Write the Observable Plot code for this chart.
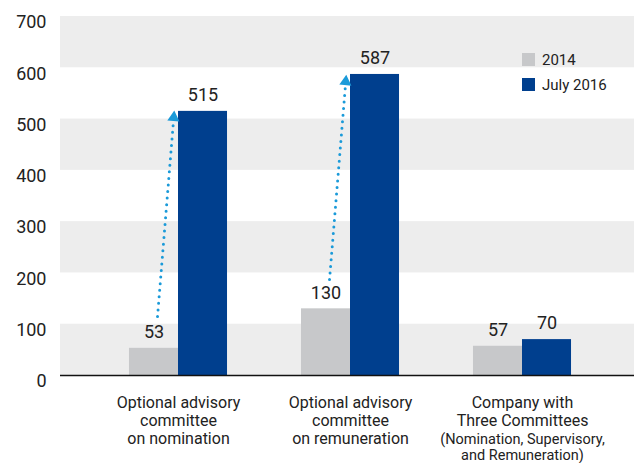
<!DOCTYPE html>
<html>
<head>
<meta charset="utf-8">
<script src="https://cdn.jsdelivr.net/npm/d3@7"></script>
<script src="https://cdn.jsdelivr.net/npm/@observablehq/plot@0.6"></script>
<style>
  html, body { margin: 0; padding: 0; background: #fff; }
  #wrap { position: relative; width: 634px; height: 463px; font-family: Roboto, "Liberation Sans", sans-serif; }
  #legend { position: absolute; left: 522px; top: 47px; font-size: 15px; color: #222; }
  #legend .row { display: flex; align-items: center; height: 25px; }
  #legend .sw { width: 13px; height: 13px; margin-right: 7px; }
</style>
</head>
<body>
<div id="wrap"><div id="legend"></div></div>
<script>
const categories = [
  "Optional advisory\ncommittee\non nomination",
  "Optional advisory\ncommittee\non remuneration",
  "Company with\nThree Committees"
];
const subLabels = ["", "", "(Nomination, Supervisory,\nand Remuneration)"];
const series = ["2014", "July 2016"];
const values2014 = [53, 130, 57];
const values2016 = [515, 587, 70];
const arrowFrom = [115, 187, null];
const arrowTo = [511, 581, null];
const yTicks = [0, 100, 200, 300, 400, 500, 600, 700];
const bandStarts = [0, 200, 400, 600];
const colors = ["#c7c8ca", "#003f8e"];
const arrowColor = "#1a9ad9";

const half = 0.285;
const rows = categories.map((c, i) => ({i, c, sub: subLabels[i], a: values2014[i], b: values2016[i], from: arrowFrom[i], to: arrowTo[i]}));
const arrows = rows.filter(d => d.from != null);

const chart = Plot.plot({
  width: 634,
  height: 463,
  marginLeft: 60,
  marginRight: 0,
  marginTop: 16,
  marginBottom: 88,
  style: {fontFamily: "Roboto, 'Liberation Sans', sans-serif", fontSize: "15px", color: "#222", background: "#fff"},
  x: {domain: [-0.5, 2.5], range: [92, 608], axis: null},
  y: {domain: [0, 700], axis: null},
  marks: [
    Plot.rectY(bandStarts, {y1: d => d, y2: d => d + 100, fill: "#ededed"}),
    Plot.axisY({ticks: yTicks, tickSize: 0, tickPadding: 14, fontSize: 18, dy: 6, fill: "#222"}),
    Plot.rectY(rows, {x1: d => d.i - half, x2: d => d.i, y1: 0, y2: "a", fill: colors[0]}),
    Plot.rectY(rows, {x1: d => d.i, x2: d => d.i + half, y1: 0, y2: "b", fill: colors[1]}),
    Plot.ruleY([0], {stroke: "#111", strokeWidth: 1.3}),
    Plot.text(rows, {x: d => d.i - half / 2, y: "a", text: d => String(d.a), dy: -16, fontSize: 18, fill: "#222"}),
    Plot.text(rows, {x: d => d.i + half / 2, y: "b", text: d => String(d.b), dy: -16, fontSize: 18, fill: "#222"}),
    Plot.link(arrows, {x1: d => d.i - 0.122, y1: "from", x2: d => d.i - 0.03, y2: d => d.to - 18,
      stroke: arrowColor, strokeWidth: 3, strokeLinecap: "round", strokeDasharray: "0 6.6"}),
    Plot.dot(arrows, {x: d => d.i - 0.028, y: d => d.to - 8, symbol: "triangle", r: 4.5, fill: arrowColor, rotate: 5}),
    Plot.text(rows, {x: "i", text: "c", frameAnchor: "bottom", lineAnchor: "top", dy: 19.4, lineHeight: 1.13, fontSize: 16, fill: "#222"}),
    Plot.text(rows, {x: "i", text: "sub", frameAnchor: "bottom", lineAnchor: "top", dy: 56.8, lineHeight: 1.12, fontSize: 14.5, fill: "#222"})
  ]
});
const wrap = document.getElementById("wrap");
wrap.insertBefore(chart, wrap.firstChild);

const legend = document.getElementById("legend");
series.forEach((s, k) => {
  const row = document.createElement("div");
  row.className = "row";
  const sw = document.createElement("span");
  sw.className = "sw";
  sw.style.background = colors[k];
  const t = document.createElement("span");
  t.textContent = s;
  row.appendChild(sw);
  row.appendChild(t);
  legend.appendChild(row);
});
</script>
</body>
</html>
